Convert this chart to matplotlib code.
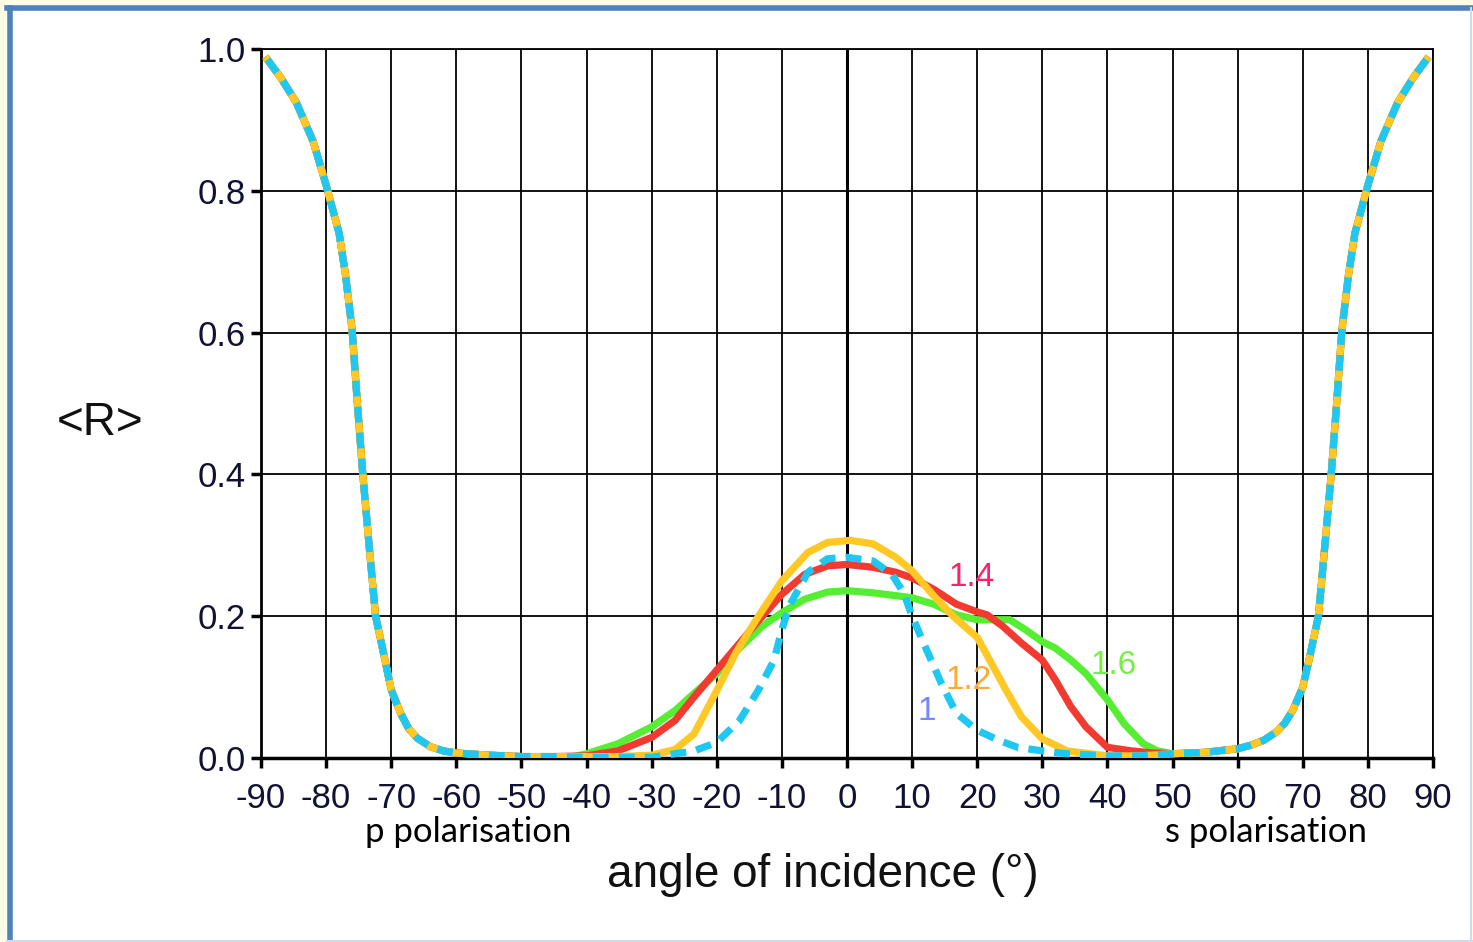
import numpy as np
import matplotlib
matplotlib.use("Agg")
import matplotlib.pyplot as plt
from matplotlib.lines import Line2D
from matplotlib.patches import Rectangle
import matplotlib.transforms as mtransforms

# shared wings (all refractive indices coincide there)
left_wing_x = [-89, -87, -84.6, -82, -80, -78, -77, -76, -75.2, -74.4, -73.4, -72.4,
               -71, -70, -68.5, -67.3, -66, -64, -62, -60, -55, -50, -45]
left_wing_r = [0.985, 0.96, 0.925, 0.87, 0.808, 0.74, 0.68, 0.603, 0.50, 0.404, 0.30, 0.20,
               0.14, 0.096, 0.062, 0.041, 0.028, 0.016, 0.010, 0.007, 0.004, 0.002, 0.002]
right_wing_x = [50, 55, 60, 62, 64, 66, 67.3, 68.5, 70, 71, 72.4, 73.4, 74.4, 75.2,
                76, 77, 78, 80, 82, 84.6, 87, 89]
right_wing_r = [0.006, 0.008, 0.013, 0.018, 0.025, 0.037, 0.05, 0.068, 0.10, 0.14, 0.20, 0.30,
                0.404, 0.50, 0.603, 0.68, 0.74, 0.808, 0.87, 0.925, 0.96, 0.985]

# central parts
x_12 = [-40, -35, -30, -26.4, -23.5, -20, -17.1, -13.6, -10, -6, -3, 0.5, 4, 7.5, 10,
        13.3, 16.3, 20, 22.1, 24.4, 26.8, 30, 33.8, 40, 45]
r_12 = [0.002, 0.002, 0.004, 0.012, 0.034, 0.095, 0.148, 0.200, 0.250, 0.290, 0.304, 0.307,
        0.302, 0.283, 0.264, 0.229, 0.200, 0.170, 0.135, 0.096, 0.058, 0.027, 0.010, 0.003, 0.003]

x_14 = [-40, -35.2, -30, -26.4, -23.5, -20, -16.5, -13, -10, -6.5, -3, 0, 4, 7.5, 10,
        13.3, 16.8, 20, 21.5, 23.9, 26.8, 30, 32, 34.4, 36.7, 40, 43.7, 47]
r_14 = [0.003, 0.010, 0.029, 0.053, 0.086, 0.124, 0.162, 0.200, 0.231, 0.259, 0.271, 0.273,
        0.269, 0.262, 0.254, 0.238, 0.217, 0.206, 0.202, 0.186, 0.162, 0.138, 0.110, 0.072,
        0.044, 0.015, 0.010, 0.007]

x_16 = [-42, -40, -35.2, -30, -26.4, -23.5, -20, -16.5, -13, -10, -6.5, -3, 0, 4, 7.5, 10,
        13.3, 16.8, 20, 22.7, 25, 27.4, 30, 32, 34.4, 36.7, 40, 42.6, 45.5, 47.7]
r_16 = [0.002, 0.006, 0.020, 0.044, 0.067, 0.091, 0.119, 0.155, 0.186, 0.205, 0.224, 0.234,
        0.236, 0.233, 0.229, 0.226, 0.217, 0.202, 0.195, 0.195, 0.195, 0.181, 0.164, 0.155,
        0.138, 0.119, 0.082, 0.048, 0.020, 0.010]

x_10 = [-40, -30, -23.5, -20, -16.5, -13.6, -11.2, -10, -8.9, -6, -3, 0, 4, 6.9, 8.7, 10,
        12.2, 14.5, 16.8, 20, 23.3, 26.2, 30, 33.8, 40, 45]
r_10 = [0.001, 0.001, 0.010, 0.022, 0.053, 0.096, 0.138, 0.181, 0.214, 0.262, 0.281, 0.283,
        0.278, 0.259, 0.233, 0.200, 0.153, 0.105, 0.063, 0.039, 0.025, 0.015, 0.010, 0.006,
        0.003, 0.003]

xticks = list(range(-90, 91, 10))
yticks = [0.0, 0.2, 0.4, 0.6, 0.8, 1.0]


def full(xc, rc):
    return left_wing_x + xc + right_wing_x, left_wing_r + rc + right_wing_r


fig = plt.figure(figsize=(14.73, 9.42), dpi=100)
fig.patch.set_facecolor("#fffde6")
W, H = 1473, 942
fig.patches.append(Rectangle((7 / W, 2 / H), (1471 - 7) / W, (936 - 2) / H,
                             transform=fig.transFigure, facecolor="white",
                             edgecolor="none", zorder=-2))
frame = [([9.5 / W, 9.5 / W], [0, 1 - 8 / H], "#4f81bd", 4),
         ([7 / W, 1], [1 - 8 / H, 1 - 8 / H], "#4f81bd", 4),
         ([1471 / W, 1471 / W], [0, 1 - 8 / H], "#d0dae8", 1.5),
         ([7 / W, 1], [1.5 / H, 1.5 / H], "#d0dae8", 1.5)]
for fx, fy, fc, flw in frame:
    fig.lines.append(Line2D(fx, fy, transform=fig.transFigure, color=fc, lw=flw, zorder=-1))

ax = fig.add_axes([261 / W, 1 - 758 / H, (1433 - 261) / W, (758 - 49) / H])
ax.set_zorder(2)
ax.patch.set_alpha(0)
ax.set_xlim(-90, 90)
ax.set_ylim(0, 1)

lw = 5.2
x, r = full(x_16, r_16)
ax.plot(x, r, color="#55ee33", lw=lw, zorder=3, solid_joinstyle="round")
x, r = full(x_14, r_14)
ax.plot(x, r, color="#f23a30", lw=lw, zorder=4, solid_joinstyle="round")
x, r = full(x_12, r_12)
ax.plot(x, r, color="#ffc824", lw=lw, zorder=5, solid_joinstyle="round")
x, r = full(x_10, r_10)
ax.plot(x, r, color="#1ec8f2", lw=lw, zorder=6, dashes=(2.2, 1.4), dash_capstyle="butt")

ax.grid(True, color="black", lw=1.3)
ax.axvline(0, color="black", lw=2.2, zorder=1)
ax.set_axisbelow(True)
for s in ["top", "right"]:
    ax.spines[s].set_linewidth(1.3)
ax.spines["left"].set_linewidth(2)
ax.spines["bottom"].set_linewidth(2.5)

ax.set_xticks(xticks)
ax.set_xticklabels([str(t) for t in xticks])
ax.set_yticks(yticks)
ax.set_yticklabels(["%.1f" % t for t in yticks])
ax.tick_params(direction="out", length=7, width=2.5, labelsize=25, colors="black")
ax.tick_params(axis="x", pad=10)
ax.tick_params(axis="y", pad=4)
for lab in ax.get_xticklabels() + ax.get_yticklabels():
    lab.set_family("Liberation Sans")
    lab.set_color("#111133")

# curve labels
ax.text(19.2, 0.255, "1.4", color="#ff2266", fontsize=24, family="Liberation Sans",
        ha="center", va="center", zorder=7)
ax.text(40.9, 0.131, "1.6", color="#77ee44", fontsize=24, family="Liberation Sans",
        ha="center", va="center", zorder=7)
ax.text(18.6, 0.109, "1.2", color="#ffaa33", fontsize=24, family="Liberation Sans",
        ha="center", va="center", zorder=7)
ax.text(12.3, 0.066, "1", color="#7788ff", fontsize=24, family="Liberation Sans",
        ha="center", va="center", zorder=7)

trans = mtransforms.blended_transform_factory(ax.transData, ax.transAxes)
ax.text(-58.2, -0.104, "p polarisation", transform=trans, fontsize=25, family="Lato",
        ha="center", va="center")
ax.text(64.4, -0.104, "s polarisation", transform=trans, fontsize=25, family="Lato",
        ha="center", va="center")

fig.text(823 / W, 1 - 875 / H, "angle of incidence (°)", fontsize=33,
         family="Liberation Sans", ha="center", va="center", color="#111111")
fig.text(100 / W, 1 - 423 / H, "<R>", fontsize=33, family="Liberation Sans",
         ha="center", va="center", color="#111111")

fig.savefig("out.png", dpi=100, facecolor=fig.get_facecolor())
